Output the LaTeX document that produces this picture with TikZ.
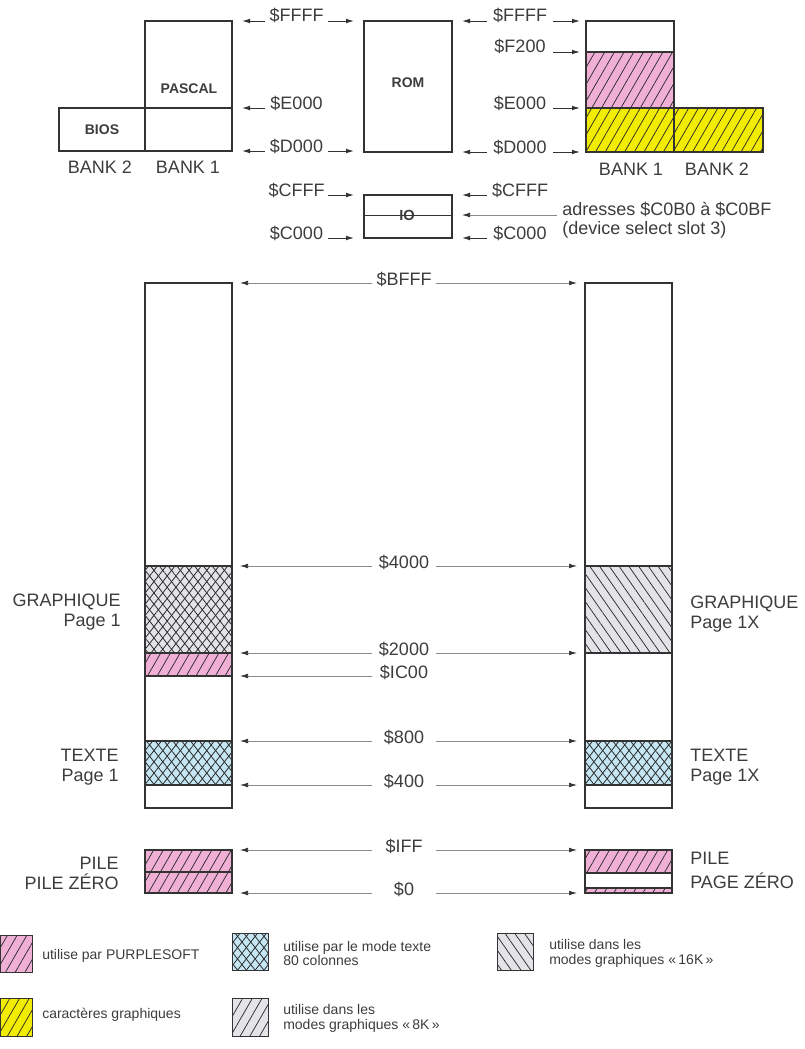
\documentclass[tikz,border=0pt]{standalone}
\usepackage{fontspec}
\setmainfont{Liberation Sans}
\usetikzlibrary{arrows.meta,patterns.meta}
\definecolor{pinkc}{HTML}{F0B0D6}
\definecolor{yellowc}{HTML}{F2EC00}
\definecolor{bluec}{HTML}{C6E6F4}
\definecolor{grayc}{HTML}{E4E4E8}
\definecolor{linec}{HTML}{333333}
\definecolor{hatchc}{HTML}{2A2A2A}
\definecolor{textc}{HTML}{3C3C3C}
\definecolor{thinc}{HTML}{8A8A8A}
\tikzset{
  hpink/.style={fill=pinkc, postaction={pattern={Lines[angle=60,distance=6.3pt,line width=.55pt]}, pattern color=hatchc}},
  hyellow/.style={fill=yellowc, postaction={pattern={Lines[angle=60,distance=6.3pt,line width=.55pt]}, pattern color=hatchc}},
  hgrayf/.style={fill=grayc, postaction={pattern={Lines[angle=60,distance=6.3pt,line width=.55pt]}, pattern color=hatchc}},
  hgrayb/.style={fill=grayc, postaction={pattern={Lines[angle=125,distance=6pt,line width=.55pt]}, pattern color=hatchc}},
  hgrayx/.style={fill=grayc, postaction={pattern={Lines[angle=52,distance=5.2pt,line width=.6pt]}, pattern color=hatchc}, postaction={pattern={Lines[angle=128,distance=5.2pt,line width=.6pt]}, pattern color=hatchc}},
  hblue/.style={fill=bluec, postaction={pattern={Lines[angle=52,distance=5.2pt,line width=.6pt]}, pattern color=hatchc}, postaction={pattern={Lines[angle=128,distance=5.2pt,line width=.6pt]}, pattern color=hatchc}},
  box/.style={draw=linec, line width=0.9pt},
  sbox/.style={draw=linec, line width=0.7pt},
  lab/.style={font=\fontsize{13.5}{16}\selectfont, text=textc, inner sep=0pt},
  boldlab/.style={font=\fontsize{10.5}{12}\selectfont\bfseries, text=textc, inner sep=0pt},
  iolab/.style={font=\fontsize{11}{12}\selectfont\bfseries, text=textc, inner sep=0pt},
  leglab/.style={font=\fontsize{10.5}{12}\selectfont, text=textc, inner sep=0pt, anchor=base west},
  tladdr/.style={lab, anchor=base, minimum width=47.25pt},
  traddr/.style={lab, anchor=base, minimum width=49.5pt},
  lowaddr/.style={lab, anchor=base, minimum width=48pt},
  arr/.style={draw=linec, line width=0.7pt, -{Latex[length=6pt,width=3.5pt]}},
  lowarr/.style={draw=thinc, line width=0.55pt, -{Latex[length=6pt,width=3.5pt,color=linec]}},
}
\begin{document}
\begin{tikzpicture}[x=0.75pt,y=-0.75pt]
\useasboundingbox (0,0) rectangle (805,1049);

% ---------------- top left: PASCAL / BIOS
\draw[box] (145,21) rectangle (232,151);
\draw[box] (59,108) rectangle (145,151);
\draw[box] (145,108) -- (232,108);
\node[boldlab] (pascal) at (189,89) {PASCAL};
\node[boldlab] (bios) at (102,130) {BIOS};
\node[lab,anchor=base] (bankb) at (100,173) {BANK 2};
\node[lab,anchor=base] (banka) at (188,173) {BANK 1};

% ---------------- ROM and IO
\draw[box] (364,21) rectangle (452,152);
\node[boldlab] (rom) at (408,83) {ROM};
\draw[box] (364,195) rectangle (452,238);
\draw[sbox] (364,215) -- (452,215);
\node[iolab] (io) at (407,215) {IO};

% ---------------- top right stack
\path[hpink] (586,52) rectangle (674,108);
\path[hyellow] (586,108) rectangle (763,152);
\draw[box] (586,21) rectangle (674,152);
\draw[box] (674,108) rectangle (763,152);
\draw[box] (586,52) -- (674,52);
\draw[box] (586,108) -- (674,108);
\node[lab,anchor=base] (bankc) at (631,175) {BANK 1};
\node[lab,anchor=base] (bankd) at (717,175) {BANK 2};

% coordinates (arrow tips)
\coordinate (pA) at (242,21);  \coordinate (pB) at (242,108); \coordinate (pC) at (242,151);
\coordinate (rA) at (354,21);  \coordinate (rC) at (354,151); \coordinate (rD) at (354,195); \coordinate (rE) at (354,238);
\coordinate (oA) at (462,21);  \coordinate (oC) at (462,152); \coordinate (oD) at (462,195); \coordinate (oE) at (462,238); \coordinate (oF) at (462,215);
\coordinate (sA) at (580,21);  \coordinate (sB) at (580,52);  \coordinate (sC) at (580,108); \coordinate (sD) at (580,152);

% top-left address labels
\node[tladdr] (ta) at (296.5,22) {\$FFFF};
\node[tladdr] (tb) at (296.5,109) {\$E000};
\node[tladdr] (tc) at (296.5,152) {\$D000};
\node[tladdr] (td) at (296.5,196) {\$CFFF};
\node[tladdr] (te) at (296.5,239) {\$C000};
\draw[arr] (ta.west |- pA) -- (pA);
\draw[arr] (ta.east |- rA) -- (rA);
\draw[arr] (tb.west |- pB) -- (pB);
\draw[arr] (tc.west |- pC) -- (pC);
\draw[arr] (tc.east |- rC) -- (rC);
\draw[arr] (td.east |- rD) -- (rD);
\draw[arr] (te.east |- rE) -- (rE);

% top-right address labels
\node[traddr] (ua) at (520,22) {\$FFFF};
\node[traddr] (ub) at (520,53) {\$F200};
\node[traddr] (uc) at (520,109) {\$E000};
\node[traddr] (ud) at (520,153) {\$D000};
\node[traddr] (ue) at (520,196) {\$CFFF};
\node[traddr] (uf) at (520,239) {\$C000};
\draw[arr] (ua.west |- oA) -- (oA);
\draw[arr] (ua.east |- sA) -- (sA);
\draw[arr] (ub.east |- sB) -- (sB);
\draw[arr] (uc.east |- sC) -- (sC);
\draw[arr] (ud.west |- oC) -- (oC);
\draw[arr] (ud.east |- sD) -- (sD);
\draw[arr] (ue.west |- oD) -- (oD);
\draw[arr] (uf.west |- oE) -- (oE);
\node[lab,anchor=base west,inner xsep=3.75pt] (adr) at (557,215) {adresses \$C0B0 à \$C0BF};
\node[lab,anchor=base west,inner xsep=3.75pt] (dev) at (557,234) {(device select slot 3)};
\draw[lowarr] (adr.west |- oF) -- (oF);

% ---------------- lower memory columns
\path[hgrayx] (145,566) rectangle (232,653);
\path[hpink] (145,653) rectangle (232,676);
\path[hblue] (145,741) rectangle (232,785);
\draw[box] (145,283) rectangle (232,808);
\foreach \yy in {566,653,676,741,785} \draw[box] (145,\yy) -- (232,\yy);

\path[hgrayb] (585,566) rectangle (672,653);
\path[hblue] (585,741) rectangle (672,785);
\draw[box] (585,283) rectangle (672,808);
\foreach \yy in {566,653,741,785} \draw[box] (585,\yy) -- (672,\yy);

\path[hpink] (145,850) rectangle (232,893);
\draw[box] (145,850) rectangle (232,893);
\draw[box] (145,872) -- (232,872);
\path[hpink] (585,850) rectangle (672,873);
\path[hpink] (585,888) rectangle (672,893);
\draw[box] (585,850) rectangle (672,893);
\draw[box] (585,873) -- (672,873);
\draw[box] (585,888) -- (672,888);

% lower address labels and arrows
\coordinate (lA) at (240,283); \coordinate (mA) at (577,283);
\coordinate (lB) at (240,566); \coordinate (mB) at (577,566);
\coordinate (lC) at (240,653); \coordinate (mC) at (577,653);
\coordinate (lD) at (240,676);
\coordinate (lE) at (240,741); \coordinate (mE) at (577,741);
\coordinate (lF) at (240,785); \coordinate (mF) at (577,785);
\coordinate (lG) at (240,850); \coordinate (mG) at (577,850);
\coordinate (lH) at (240,893); \coordinate (mH) at (577,893);
\node[lowaddr] (va) at (404,285) {\$BFFF};
\node[lowaddr] (vb) at (404,568) {\$4000};
\node[lowaddr] (vc) at (404,655) {\$2000};
\node[lowaddr] (vd) at (404,678) {\$IC00};
\node[lowaddr] (ve) at (404,743) {\$800};
\node[lowaddr] (vf) at (404,787) {\$400};
\node[lowaddr] (vg) at (404,852) {\$IFF};
\node[lowaddr] (vh) at (404,895) {\$0};
\foreach \n/\l/\m in {va/lA/mA, vb/lB/mB, vc/lC/mC, ve/lE/mE, vf/lF/mF, vg/lG/mG, vh/lH/mH}{
  \draw[lowarr] (\n.west |- \l) -- (\l);
  \draw[lowarr] (\n.east |- \m) -- (\m);
}
\draw[lowarr] (vd.west |- lD) -- (lD);

% side labels
\node[lab,anchor=base east] (g1) at (121,606) {GRAPHIQUE};
\node[lab,anchor=base east] (g2) at (121,626) {Page 1};
\node[lab,anchor=base east] (x1) at (119,761) {TEXTE};
\node[lab,anchor=base east] (x2) at (119,781) {Page 1};
\node[lab,anchor=base east] (p1) at (119,869) {PILE};
\node[lab,anchor=base east] (p2) at (119,889) {PILE ZÉRO};
\node[lab,anchor=base west] (g3) at (690,608) {GRAPHIQUE};
\node[lab,anchor=base west] (g4) at (690,628) {Page 1X};
\node[lab,anchor=base west] (x3) at (690,761) {TEXTE};
\node[lab,anchor=base west] (x4) at (690,781) {Page 1X};
\node[lab,anchor=base west] (p3) at (690,864) {PILE};
\node[lab,anchor=base west] (p4) at (690,888) {PAGE ZÉRO};

% ---------------- legend
\path[hpink] (0,935) rectangle (32,972);   \draw[sbox] (0,935) rectangle (32,972);
\path[hblue] (232,933) rectangle (268,970); \draw[sbox] (232,933) rectangle (268,970);
\path[hgrayb] (497,933) rectangle (533,970); \draw[sbox] (497,933) rectangle (533,970);
\path[hyellow] (0,998) rectangle (32,1036); \draw[sbox] (0,998) rectangle (32,1036);
\path[hgrayf] (232,998) rectangle (268,1036); \draw[sbox] (232,998) rectangle (268,1036);
\node[leglab] (la) at (42,959) {utilise par PURPLESOFT};
\node[leglab] (lb1) at (283,951) {utilise par le mode texte};
\node[leglab] (lb2) at (283,965) {80 colonnes};
\node[leglab] (lc1) at (549,949) {utilise dans les};
\node[leglab] (lc2) at (549,964) {modes graphiques «\,16K\,»};
\node[leglab] (ld) at (42,1018) {caractères graphiques};
\node[leglab] (le1) at (283,1014) {utilise dans les};
\node[leglab] (le2) at (283,1029) {modes graphiques «\,8K\,»};
\end{tikzpicture}
\end{document}
